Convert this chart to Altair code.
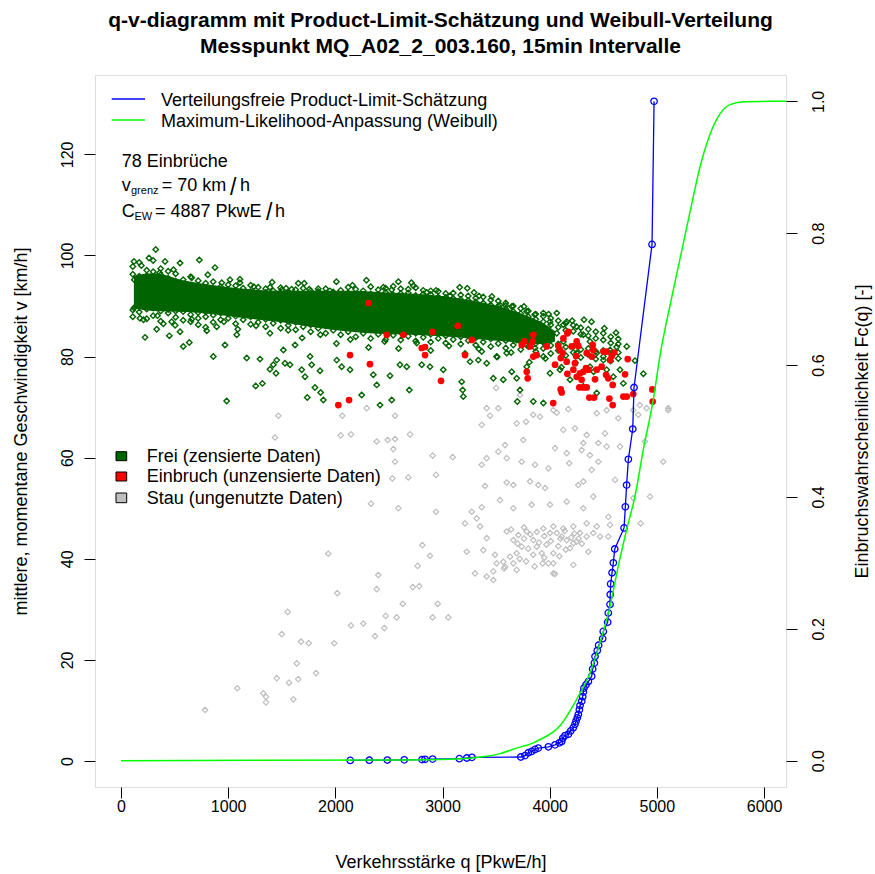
import altair as alt
import pandas as pd

FONT = "Liberation Sans"

# ---------------- values ----------------
x_ticks = [0, 1000, 2000, 3000, 4000, 5000, 6000]
v_ticks = [0, 20, 40, 60, 80, 100, 120]
p_ticks = [0.0, 0.2, 0.4, 0.6, 0.8, 1.0]

title_lines = ["q-v-diagramm mit Product-Limit-Schätzung und Weibull-Verteilung",
               "Messpunkt MQ_A02_2_003.160, 15min Intervalle"]

# solid core of the free-flow cloud (q, lower v, upper v)
core_q = [120, 300, 600, 900, 1200, 1500, 1800, 2100, 2400, 2700, 3000, 3300, 3600, 3800, 3950, 4050]
core_lo = [89.5, 89.0, 88.8, 88.3, 87.5, 86.8, 85.8, 85.0, 84.5, 84.3, 84.0, 83.5, 83.0, 82.5, 82.5, 83.0]
core_hi = [96.0, 96.5, 95.0, 94.0, 93.3, 93.0, 93.0, 93.0, 92.8, 92.5, 92.0, 91.0, 89.5, 88.0, 86.5, 85.0]

# Frei (zensierte Daten) - points around the core (q, v)
frei_pts = [
    (324, 101.2), (121, 98.8), (261, 99.5), (411, 98.8), (551, 98.5), (731, 99.1), (877, 97.6), (124, 95.2), (1017, 95.2), (1110, 94.6),
    (121, 89.6), (177, 87.6), (224, 83.8), (333, 85.4), (395, 86.5), (451, 84.1), (551, 84.9), (473, 86.9), (581, 82.0), (637, 82.8),
    (721, 86.3), (800, 85.1), (861, 80.0), (893, 85.9), (970, 82.3), (1080, 84.3), (1173, 79.7), (1297, 79.5), (1257, 74.2), (1319, 74.7),
    (986, 71.2), (1390, 77.5), (1453, 79.3), (1421, 78.4), (1530, 78.7), (1577, 78.4), (1515, 81.3), (1446, 76.7), (1624, 82.3), (1686, 77.4),
    (1717, 76.0), (1764, 80.0), (1779, 78.4), (1810, 73.9), (1863, 72.9), (1738, 71.9), (1888, 71.4), (1857, 77.2), (1950, 93.0), (1654, 94.5),
    (1757, 93.3), (1592, 93.3), (1390, 93.7), (1500, 93.2),
    (2588, 94.8), (2728, 94.0), (2448, 93.7), (2526, 93.2), (2852, 92.7), (3070, 92.0), (3231, 93.5), (3294, 92.7), (3536, 90.2), (3646, 89.9),
    (3786, 88.9), (3941, 88.6), (4066, 88.6), (4159, 86.9), (4320, 87.3), (4619, 84.7), (4719, 82.0), (4625, 81.9), (4874, 76.6), (4796, 79.2),
    (2013, 79.3), (2137, 77.4), (2059, 78.0), (2246, 72.4), (2354, 76.4), (2417, 70.4), (2386, 74.4), (2526, 71.4), (2510, 76.2), (2603, 78.4),
    (2666, 78.0), (2690, 73.4), (2806, 78.4), (2883, 78.0), (3007, 77.4), (3179, 75.0), (3188, 73.4), (3194, 72.1), (3474, 75.7), (3567, 75.4),
    (3646, 77.0), (3692, 75.7), (3723, 73.4), (3698, 71.1), (3847, 71.1), (3941, 70.8), (3786, 78.0), (3412, 78.7), (3505, 80.0), (3257, 79.0),
    (3334, 79.3), (3599, 80.7), (3366, 81.0),
    (3879, 85.3), (3972, 84.0), (4066, 84.6), (4128, 83.0), (4252, 85.9), (4314, 84.3), (4376, 83.0), (4439, 80.7), (4501, 79.3), (4563, 81.3),
    (4532, 77.4), (4594, 76.0), (4656, 77.4), (4687, 74.7), (4096, 77.4), (4003, 76.7), (4190, 75.4), (4314, 74.1), (4439, 72.8), (4376, 78.0),
    (4252, 80.7), (3941, 80.0), (3863, 81.7), (3786, 82.3), (3692, 83.3), (3630, 84.3), (3567, 85.9), (3817, 86.6), (4003, 86.9), (4128, 86.3),
    (190, 98.0), (360, 96.6), (490, 97.2), (660, 95.6), (810, 96.2), (940, 94.6), (1110, 95.3), (1240, 93.8), (1410, 94.7), (1540, 93.5),
    (1710, 94.5), (1840, 93.4), (2010, 94.8), (2160, 94.1), (2290, 95.1), (2710, 94.6), (2940, 93.1), (3160, 93.7), (3340, 92.0), (3460, 91.9),
    (3590, 90.1), (3760, 89.9), (3860, 88.3), (3990, 88.4), (4210, 87.1), (4390, 86.9), (4510, 85.6),
    (210, 87.3), (340, 88.1), (505, 86.2), (660, 87.4), (790, 85.8), (960, 86.9), (1090, 85.4), (1260, 86.1), (1390, 84.6), (1560, 85.2),
    (1690, 83.7), (1860, 84.3), (2010, 82.6), (2140, 83.4), (2310, 81.8), (2460, 83.0), (2590, 81.6), (2760, 82.7), (2890, 81.2), (3060, 82.1),
    (3210, 80.6), (3340, 81.5), (3510, 79.9), (3640, 80.8), (3810, 78.9), (3960, 79.6), (4110, 77.9), (4240, 78.8), (4410, 77.0),
]

# Frei - dense fringe hugging the core (q, v)
frei_dense = [
    (110, 96.3), (110, 97.8), (110, 89.2), (110, 87.9), (170, 95.9), (170, 98.6), (170, 88.8), (170, 90.0),
    (240, 97.1), (240, 96.0), (240, 89.4), (240, 87.5), (300, 96.8), (300, 99.0), (300, 88.1), (300, 89.6),
    (370, 96.2), (370, 97.4), (370, 89.0), (370, 87.0), (440, 95.5), (440, 96.9), (440, 88.6), (440, 89.3),
    (510, 94.9), (510, 96.4), (510, 87.8), (510, 89.0), (580, 95.2), (580, 94.3), (580, 88.9), (580, 87.2),
    (650, 94.1), (650, 95.8), (650, 88.3), (650, 86.9), (720, 93.9), (720, 95.0), (720, 88.7), (720, 87.6),
    (790, 94.5), (790, 93.6), (790, 87.9), (790, 88.8), (860, 93.3), (860, 94.8), (860, 88.2), (860, 86.8),
    (930, 93.8), (930, 92.9), (930, 88.6), (930, 87.3), (1000, 94.2), (1000, 93.1), (1000, 87.6), (1000, 88.4),
    (1070, 92.8), (1070, 94.0), (1070, 88.0), (1070, 86.5), (1140, 93.5), (1140, 92.6), (1140, 87.3), (1140, 88.2),
    (1210, 92.9), (1210, 94.1), (1210, 87.9), (1210, 86.4), (1280, 93.7), (1280, 92.4), (1280, 86.8), (1280, 88.0),
    (1350, 92.7), (1350, 93.4), (1350, 87.4), (1350, 85.9), (1420, 93.0), (1420, 92.2), (1420, 86.6), (1420, 87.8),
    (1490, 92.5), (1490, 93.6), (1490, 87.2), (1490, 85.6), (1560, 92.8), (1560, 91.9), (1560, 86.2), (1560, 87.0),
    (1630, 92.3), (1630, 93.2), (1630, 86.8), (1630, 85.3), (1700, 93.5), (1700, 92.0), (1700, 85.9), (1700, 86.9),
    (1770, 92.1), (1770, 93.0), (1770, 86.3), (1770, 84.9), (1840, 92.9), (1840, 91.9), (1840, 85.6), (1840, 86.6),
    (1910, 92.4), (1910, 93.4), (1910, 86.1), (1910, 84.6), (1980, 91.9), (1980, 92.8), (1980, 85.2), (1980, 86.3),
    (2050, 93.1), (2050, 92.2), (2050, 85.8), (2050, 84.3), (2120, 92.6), (2120, 93.7), (2120, 84.9), (2120, 86.0),
    (2190, 92.0), (2190, 93.3), (2190, 85.5), (2190, 83.9), (2260, 93.0), (2260, 92.3), (2260, 84.6), (2260, 85.7),
    (2330, 92.4), (2330, 93.8), (2330, 85.3), (2330, 83.6), (2400, 93.2), (2400, 92.1), (2400, 84.4), (2400, 85.6),
    (2470, 92.7), (2470, 93.5), (2470, 85.1), (2470, 83.4), (2540, 92.2), (2540, 93.9), (2540, 84.2), (2540, 85.4),
    (2610, 93.4), (2610, 92.5), (2610, 84.8), (2610, 83.3), (2680, 92.6), (2680, 93.3), (2680, 84.0), (2680, 85.2),
    (2750, 92.1), (2750, 93.6), (2750, 84.6), (2750, 83.1), (2820, 93.1), (2820, 92.4), (2820, 83.8), (2820, 85.0),
    (2890, 92.3), (2890, 93.0), (2890, 84.4), (2890, 82.9), (2960, 91.8), (2960, 92.9), (2960, 83.6), (2960, 84.8),
    (3030, 92.5), (3030, 91.7), (3030, 84.1), (3030, 82.7), (3100, 91.5), (3100, 92.6), (3100, 83.4), (3100, 84.6),
    (3170, 92.2), (3170, 91.3), (3170, 83.9), (3170, 82.5), (3240, 91.1), (3240, 92.0), (3240, 83.2), (3240, 84.4),
    (3310, 91.6), (3310, 90.8), (3310, 83.7), (3310, 82.3), (3380, 90.6), (3380, 91.8), (3380, 82.9), (3380, 84.1),
    (3450, 91.2), (3450, 90.2), (3450, 83.5), (3450, 82.0), (3520, 90.0), (3520, 91.0), (3520, 82.6), (3520, 83.8),
    (3590, 89.4), (3590, 90.6), (3590, 83.2), (3590, 81.7), (3660, 88.9), (3660, 90.0), (3660, 82.3), (3660, 83.5),
    (3730, 89.5), (3730, 88.5), (3730, 82.9), (3730, 81.4), (3800, 87.9), (3800, 89.0), (3800, 82.0), (3800, 83.2),
    (3870, 88.4), (3870, 87.4), (3870, 82.6), (3870, 81.0), (3940, 86.9), (3940, 88.0), (3940, 81.6), (3940, 82.8),
    (4010, 87.6), (4010, 86.3), (4010, 82.2), (4010, 80.6), (4080, 85.8), (4080, 87.1), (4080, 81.2), (4080, 82.5),
    (4150, 86.6), (4150, 85.2), (4150, 81.9), (4150, 80.2), (4220, 85.0), (4220, 86.2), (4220, 80.8), (4220, 82.0),
    (4290, 85.7), (4290, 84.4), (4290, 81.4), (4290, 79.8), (4360, 84.1), (4360, 85.4), (4360, 80.4), (4360, 81.6),
    (4430, 84.9), (4430, 83.6), (4430, 81.0), (4430, 79.5), (4500, 83.3), (4500, 84.6), (4500, 80.0), (4500, 81.2),
    (4570, 83.9), (4570, 82.7), (4570, 80.6), (4570, 79.1), (4640, 82.5), (4640, 83.5), (4640, 79.6), (4640, 80.8),
]

# Einbruch (unzensierte Daten) (q, v)
einbruch_pts = [
    (2308, 90.6), (2480, 84.3), (2634, 84.3), (2905, 84.9), (3142, 86.1), (3273, 83.3), (2806, 81.7), (2837, 81.9), (2837, 80.3), (3210, 80.3),
    (2137, 80.3), (2323, 78.5), (2986, 75.2), (2028, 70.4), (2128, 71.4), (3739, 82.3), (3763, 83.0), (3847, 84.3), (3841, 83.0), (3817, 82.0),
    (3879, 80.3), (3847, 80.0), (3786, 77.0), (3795, 75.7), (3972, 82.0), (4050, 78.4), (4081, 82.1), (4096, 81.3), (4128, 83.6), (4174, 84.9),
    (4103, 79.7), (4159, 79.0), (4165, 76.6), (4205, 82.0), (4252, 83.0), (4267, 82.1), (4246, 80.1), (4236, 78.7), (4221, 77.4), (4252, 76.0),
    (4283, 76.7), (4314, 77.0), (4298, 75.4), (4277, 73.9), (4314, 73.9), (4345, 73.9), (4370, 71.9), (4414, 71.9), (4103, 73.5), (4112, 72.9),
    (4345, 80.7), (4392, 80.0), (4407, 81.3), (4401, 82.3), (4361, 77.4), (4339, 77.7), (4423, 75.5), (4439, 77.4), (4485, 78.0), (4526, 76.4),
    (4501, 81.0), (4532, 81.0), (4579, 80.1), (4601, 80.8), (4563, 79.3), (4547, 75.7), (4588, 74.4), (4557, 71.7), (4588, 70.4), (4687, 72.1),
    (4719, 72.1), (4728, 79.5), (4703, 76.5), (4780, 72.6), (4958, 73.5), (4961, 71.1), (4165, 84.6), (4121, 80.7), (4033, 70.8),
]

# Stau (ungenutzte Daten) (q, v)
stau_pts = [
    (1468, 68.3), (1437, 64.0), (2050, 64.4), (2146, 64.6), (2065, 68.3), (2293, 69.8), (2557, 68.3), (2697, 64.6), (2386, 63.2), (2488, 63.5),
    (2557, 63.7), (2541, 61.7), (2557, 59.2), (2532, 55.9), (2681, 56.1), (2939, 56.6), (2908, 60.4), (3095, 60.1), (2333, 50.9), (2588, 50.0),
    (2939, 49.3), (1934, 41.0), (2401, 36.8), (2386, 34.0), (2018, 33.2), (2768, 38.6), (2812, 42.7), (2883, 40.6), (2722, 34.4), (2783, 34.6),
    (2629, 31.1), (2955, 31.1), (2908, 28.4), (3054, 28.4), (2470, 28.7), (2572, 28.4), (2457, 26.3), (2370, 24.7), (2261, 27.2), (2146, 26.8),
    (1990, 23.3), (1680, 23.6), (1752, 23.3), (1555, 29.5), (1500, 25.1), (1640, 19.3), (1820, 17.4), (1654, 16.2), (1568, 15.5), (1453, 16.4),
    (1608, 12.2), (1328, 13.4), (1353, 12.7), (1353, 11.6), (1085, 14.4), (784, 10.1),
    (3412, 69.8), (3521, 69.8), (3443, 68.3), (3366, 66.5), (3692, 66.8), (3779, 67.1), (3847, 68.5), (3910, 68.1), (4034, 69.4), (4066, 68.9),
    (4174, 69.6), (4127, 65.5), (4236, 65.8), (4345, 64.5), (4314, 62.9), (4439, 68.8), (4532, 69.4), (4516, 64.8), (4454, 62.9), (4532, 62.2),
    (4656, 62.2), (4640, 67.8), (4780, 69.4), (4827, 68.5), (4905, 69.8), (5107, 69.8), (4889, 63.2), (5060, 59.2), (4936, 52.3), (4849, 47.0),
    (4780, 52.0), (4610, 55.6), (4547, 48.3), (4454, 59.2), (4392, 57.6), (4314, 55.3), (4267, 54.6), (4298, 61.5), (4376, 60.5), (4183, 58.9),
    (4159, 60.9), (4050, 61.9), (3988, 57.9), (3863, 58.6), (3739, 59.2), (3599, 59.9), (3583, 62.5), (3521, 61.2), (3412, 59.9), (3366, 58.6),
    (3754, 63.5), (3894, 54.6), (3817, 55.3), (3661, 54.6), (3599, 55.1), (3397, 54.4), (3957, 54.0), (4003, 50.7), (4159, 51.3), (4314, 50.0),
    (4407, 52.3), (3832, 50.7), (3661, 50.0), (3536, 51.6), (3366, 50.2), (3273, 49.3), (3210, 47.0), (3319, 48.0), (3350, 46.4), (3412, 44.1),
    (3381, 41.7), (3226, 41.4), (3303, 37.1), (3412, 36.5), (3474, 35.8), (3490, 40.8), (3505, 39.1), (3567, 39.4), (3583, 38.4), (3661, 39.1),
    (3692, 37.8), (3599, 45.4), (3661, 43.7), (3708, 44.7), (3739, 42.4), (3786, 45.4), (3847, 43.7), (3879, 42.4), (3847, 40.8), (3926, 41.1),
    (3988, 39.1), (4034, 37.1), (4034, 41.1), (4066, 45.1), (4112, 44.4), (4159, 43.7), (4221, 43.1), (4283, 45.1), (4345, 44.4), (4407, 45.1),
    (4470, 44.4), (4439, 46.4), (4345, 47.0), (4221, 46.4), (4127, 46.0), (4034, 46.4), (3941, 46.0), (4003, 45.1), (4190, 42.1), (4252, 43.4),
    (4361, 41.4), (4547, 44.4), (4563, 46.7), (4221, 38.8), (4034, 39.1), (3934, 39.1), (3692, 41.1), (3630, 40.4), (3474, 37.5), (3574, 38.1),
    (4050, 37.0), (3500, 73.8), (3723, 72.4), (4840, 70.4), (5107, 69.4),
    (3700, 43.0), (3760, 44.0), (3800, 42.0), (3820, 44.8), (3900, 43.2), (3950, 44.5), (3970, 42.8), (4010, 43.5), (4080, 42.5), (4100, 44.0),
    (4140, 45.5), (4200, 44.2), (4230, 45.0), (4270, 44.0), (4300, 43.0), (3880, 45.3), (3760, 46.2), (3640, 45.8), (3720, 40.0), (3780, 39.5),
    (3860, 38.5), (3950, 40.2), (4090, 40.5), (4150, 41.8),
]

# Product-Limit estimate (q, Fc)
ple_pts = [
    (2139, 0.0003), (2317, 0.0006), (2485, 0.0009), (2643, 0.0012), (2809, 0.0016), (2837, 0.002), (2908, 0.0024), (3157, 0.003), (3226, 0.004), (3275, 0.005),
    (3730, 0.0055), (3770, 0.0076), (3801, 0.012), (3832, 0.014), (3863, 0.017), (3894, 0.019), (3988, 0.021), (4050, 0.024), (4090, 0.027), (4112, 0.029),
    (4122, 0.034), (4143, 0.038), (4174, 0.040), (4196, 0.045), (4220, 0.050), (4236, 0.055), (4246, 0.060), (4258, 0.065), (4267, 0.070), (4277, 0.077),
    (4283, 0.0835), (4299, 0.090), (4308, 0.097), (4314, 0.104), (4320, 0.110), (4339, 0.115), (4361, 0.120), (4392, 0.128), (4401, 0.139), (4417, 0.148),
    (4423, 0.158), (4444, 0.167), (4457, 0.175), (4494, 0.185), (4500, 0.196), (4541, 0.210), (4547, 0.224), (4563, 0.237), (4565, 0.252), (4569, 0.268),
    (4582, 0.285), (4594, 0.300), (4607, 0.321), (4694, 0.353), (4706, 0.385), (4718, 0.418), (4734, 0.457), (4775, 0.503), (4787, 0.566), (4955, 0.783),
    (4974, 1.0),
]

# Weibull maximum-likelihood fit (q, Fc)
weibull_pts = [
    (0, 0.0), (2603, 0.001), (3070, 0.002), (3412, 0.0065), (3536, 0.0106), (3692, 0.019), (3847, 0.027), (3910, 0.032), (4096, 0.053),
    (4252, 0.093), (4376, 0.133), (4470, 0.179), (4563, 0.234), (4640, 0.295), (4719, 0.351), (4796, 0.401), (4874, 0.472), (4967, 0.548),
    (5029, 0.614), (5122, 0.690), (5216, 0.761), (5309, 0.832), (5402, 0.900), (5496, 0.950), (5589, 0.981), (5682, 0.995), (5822, 0.9995),
    (6056, 1.0), (6205, 1.0),
]

# ---------------- tables ----------------
df_core = pd.DataFrame({"q": core_q, "lo": core_lo, "hi": core_hi})
df_frei = pd.DataFrame(frei_pts + frei_dense, columns=["q", "v"])
df_einbruch = pd.DataFrame(einbruch_pts, columns=["q", "v"])
df_stau = pd.DataFrame(stau_pts, columns=["q", "v"])
df_ple = pd.DataFrame(ple_pts, columns=["q", "F"]).reset_index().rename(columns={"index": "o"})
df_weib = pd.DataFrame(weibull_pts, columns=["q", "F"])

# ---------------- scales & axes ----------------
xs = alt.Scale(domain=[-242.6, 6205], nice=False, zero=False)
vs = alt.Scale(domain=[-5.14, 135.7], nice=False, zero=False)
ps = alt.Scale(domain=[-0.04, 1.04], nice=False, zero=False)

common = dict(domain=False, grid=False, ticks=True, tickSize=11, tickColor="black", tickWidth=1,
              labelFont=FONT, labelFontSize=16, labelColor="black", labelOverlap=False, labelFlush=False,
              labelBound=False, titleFont=FONT, titleFontSize=18, titleFontWeight="normal", titleColor="black")

x_axis = alt.Axis(values=x_ticks, format="d", labelBaseline="middle", labelPadding=8,
                  title="Verkehrsstärke q [PkwE/h]", titleX=345.5, titleY=75, titleBaseline="middle",
                  titleAlign="center", **common)
v_title = "mittlere, momentane Geschwindigkeit v [km/h]"
v_axis = alt.Axis(values=v_ticks, format="d", orient="left", labelAngle=270, labelAlign="center",
                  labelBaseline="alphabetic", labelPadding=12, title=v_title, titleAngle=270,
                  titleX=-74, titleY=356, titleAlign="center", titleBaseline="middle", **common)
p_title = "Einbruchswahrscheinlichkeit Fc(q) [-]"
p_axis = alt.Axis(values=p_ticks, format=".1f", orient="right", labelAngle=270, labelAlign="center",
                  labelBaseline="top", labelPadding=13, title=p_title,
                  titleAngle=270, titleX=76, titleY=356, titleAlign="center", titleBaseline="middle", **common)

X = alt.X("q:Q", scale=xs, axis=x_axis)
YV = alt.Y("v:Q", scale=vs, axis=v_axis, title=v_title)
YF = alt.Y("F:Q", scale=ps, axis=p_axis, title=p_title)

stau = alt.Chart(df_stau).mark_point(shape="diamond", filled=False, color="#BEBEBE", size=30,
                                     strokeWidth=1.2, opacity=1, clip=True).encode(x=X, y=YV)
core = alt.Chart(df_core).mark_area(color="#006400", interpolate="monotone", clip=True).encode(
    x=X, y=alt.Y("lo:Q", scale=vs, axis=v_axis, title=v_title), y2="hi:Q")
frei = alt.Chart(df_frei).mark_point(shape="diamond", filled=False, color="#006400", size=30,
                                     strokeWidth=1.4, opacity=1, clip=True).encode(x=X, y=YV)
einbruch = alt.Chart(df_einbruch).mark_circle(color="#FF0000", size=45, opacity=1, clip=True).encode(x=X, y=YV)

left = alt.layer(stau, core, frei, einbruch)

weib = alt.Chart(df_weib).mark_line(color="#00FF00", strokeWidth=1.5, interpolate="monotone", clip=True).encode(
    x=X, y=YF)
ple_line = alt.Chart(df_ple).mark_line(color="#0000FF", strokeWidth=1.3, clip=True).encode(
    x=X, y=YF, order="o:Q")
ple_pts_m = alt.Chart(df_ple).mark_point(shape="circle", filled=False, color="#0000FF", size=42,
                                         strokeWidth=1.3, opacity=1, clip=True).encode(x=X, y=YF)

right = alt.layer(ple_line, ple_pts_m, weib)


# ---------------- annotations (pixel positions inside the plot frame) ----------------
def txt(s, x, y, size=18, baseline="middle", align="left"):
    return alt.Chart(alt.Data(values=[{}])).mark_text(
        text=s, font=FONT, fontSize=size, align=align, baseline=baseline, color="black").encode(
        x=alt.value(x), y=alt.value(y))


def hline(x1, x2, y, color):
    return alt.Chart(alt.Data(values=[{}])).mark_rule(color=color, strokeWidth=1.5).encode(
        x=alt.value(x1), x2=alt.value(x2), y=alt.value(y))


def box(x1, x2, y1, y2, color):
    return alt.Chart(alt.Data(values=[{}])).mark_rect(fill=color, stroke="black", strokeWidth=1).encode(
        x=alt.value(x1), x2=alt.value(x2), y=alt.value(y1), y2=alt.value(y2))


annots = [
    hline(16.7, 50, 24, "#0000FF"),
    hline(16.7, 50, 45, "#00FF00"),
    txt("Verteilungsfreie Product-Limit-Schätzung", 66, 25.7),
    txt("Maximum-Likelihood-Anpassung (Weibull)", 66, 46.7),
    txt("78 Einbrüche", 26.7, 86.7),
    txt("v", 26.7, 116, baseline="alphabetic"),
    txt("grenz", 36, 119, size=11, baseline="alphabetic"),
    txt("= 70 km", 66.7, 116, baseline="alphabetic"),
    txt("/", 135, 119.7, size=23, baseline="alphabetic"),
    txt("h", 145, 116, baseline="alphabetic"),
    txt("C", 26.7, 141.7, baseline="alphabetic"),
    txt("EW", 39.5, 145, size=11, baseline="alphabetic"),
    txt("= 4887 PkwE", 60, 141.7, baseline="alphabetic"),
    txt("/", 171, 145, size=23, baseline="alphabetic"),
    txt("h", 180, 141.7, baseline="alphabetic"),
    box(21, 31.7, 376.7, 385.7, "#006400"),
    box(21, 31.7, 397, 406, "#FF0000"),
    box(21, 31.7, 418, 427.7, "#BEBEBE"),
    txt("Frei (zensierte Daten)", 51.7, 381.7),
    txt("Einbruch (unzensierte Daten)", 51.7, 402.3),
    txt("Stau (ungenutzte Daten)", 51.7, 424),
]

chart = alt.layer(left, right, *annots).resolve_scale(y="independent").properties(
    width=691, height=712,
    title=alt.TitleParams(text=title_lines, font=FONT, fontSize=21, fontWeight="bold", color="black",
                          anchor="middle", lineHeight=26, offset=18),
    padding={"left": 95, "top": 75, "right": 89, "bottom": 87},
    autosize=alt.AutoSizeParams(type="none"),
).configure_view(stroke="black", strokeWidth=1.2).configure(background="white")

chart.save("out.html", embed_options={"renderer": "svg", "actions": False})
